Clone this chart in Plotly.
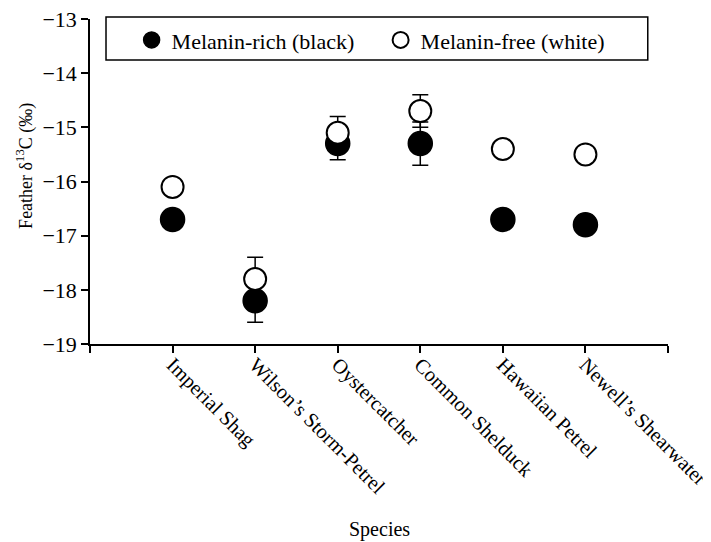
import plotly.graph_objects as go

species = ["Imperial Shag", "Wilson’s Storm-Petrel", "Oystercatcher",
           "Common Shelduck", "Hawaiian Petrel", "Newell’s Shearwater"]
black_vals = [-16.7, -18.2, -15.3, -15.3, -16.7, -16.8]
black_err = [0.0, 0.4, 0.3, 0.4, 0.1, 0.0]
white_vals = [-16.1, -17.8, -15.1, -14.7, -15.4, -15.5]
white_err = [0.0, 0.4, 0.3, 0.3, 0.0, 0.0]
y_ticks = [-19, -18, -17, -16, -15, -14, -13]

pos = list(range(1, len(species) + 1))
FONT = "Liberation Serif"

fig = go.Figure()
fig.add_trace(go.Scatter(
    x=pos, y=black_vals, mode="markers", name="Melanin-rich (black)",
    marker=dict(size=24, color="black", line=dict(color="black", width=1.5)),
    error_y=dict(type="data", array=black_err, color="black", thickness=1.5, width=8),
))
fig.add_trace(go.Scatter(
    x=pos, y=white_vals, mode="markers", name="Melanin-free (white)",
    marker=dict(size=22, color="white", line=dict(color="black", width=2)),
    error_y=dict(type="data", array=white_err, color="black", thickness=1.5, width=8),
))

fig.update_layout(
    width=703, height=534,
    margin=dict(l=82, r=43, t=11, b=198),
    plot_bgcolor="white", paper_bgcolor="white",
    font=dict(family=FONT, size=22, color="black"),
    showlegend=True,
    legend=dict(orientation="h", x=0.072, xanchor="left", y=0.935, yanchor="middle",
                bgcolor="rgba(0,0,0,0)", borderwidth=0, entrywidth=204,
                font=dict(family=FONT, size=22), itemsizing="trace"),
    xaxis=dict(range=[0, 7], tickvals=pos, ticktext=species, tickangle=45,
               showline=True, linecolor="black", linewidth=1.5,
               ticks="outside", ticklen=7, tickwidth=1.5, tickcolor="black",
               minor=dict(tickvals=[0, len(species) + 1], ticks="outside",
                          ticklen=7, tickwidth=1.5, tickcolor="black", showgrid=False),
               showgrid=False, zeroline=False, automargin=False,
               ticklabeloverflow="allow", ticklabelstandoff=-8,
               tickfont=dict(family=FONT, size=20.5)),
    yaxis=dict(range=[-19, -13], tickvals=y_ticks,
               ticktext=["−19", "−18", "−17", "−16", "−15", "−14", "−13"],
               showline=True, linecolor="black", linewidth=1.5,
               ticks="outside", ticklen=7, tickwidth=1.5, tickcolor="black",
               showgrid=False, zeroline=False, automargin=False,
               ticklabeloverflow="allow",
               tickfont=dict(family=FONT, size=22)),
    shapes=[dict(type="rect", xref="paper", yref="paper",
                 x0=0.0277, x1=0.965, y0=0.874, y1=1.006,
                 line=dict(color="black", width=1.5), fillcolor="rgba(0,0,0,0)")],
    annotations=[
        dict(text="Species", xref="paper", yref="paper", x=0.5, y=-0.572,
             xanchor="center", yanchor="middle", showarrow=False,
             font=dict(family=FONT, size=20)),
        dict(text="Feather δ<sup>13</sup>C (‰)", xref="paper", yref="paper",
             x=-0.1125, y=0.548, xanchor="center", yanchor="middle",
             textangle=-90, showarrow=False, font=dict(family=FONT, size=18)),
    ],
)

fig.write_html("out.html")
